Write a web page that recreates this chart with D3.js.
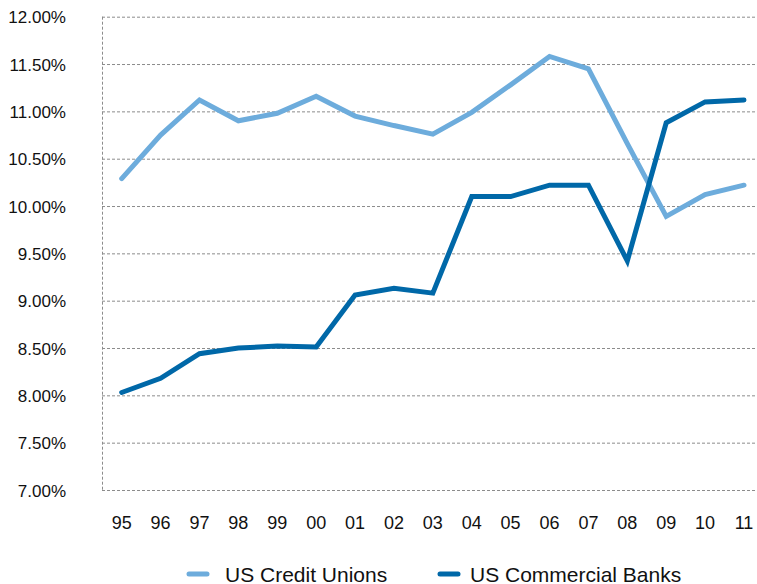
<!DOCTYPE html>
<html lang="en">
<head>
<meta charset="UTF-8" />
<title>Credit Unions vs Commercial Banks</title>
<script src="https://d3js.org/d3.v7.min.js"></script>
<style>
  body { margin: 0; background: #fff; }
  text { font-family: "Liberation Sans", Arial, Helvetica, sans-serif; fill: #111; }
</style>
</head>
<body>
<div id="chart"></div>
<script>
// data
var years = ["95","96","97","98","99","00","01","02","03","04","05","06","07","08","09","10","11"];
var creditUnions = [10.29, 10.75, 11.12, 10.90, 10.98, 11.16, 10.95, 10.85, 10.76, 10.99, 11.28, 11.58, 11.45, 10.66, 9.89, 10.12, 10.22];
var commercialBanks = [8.03, 8.18, 8.44, 8.50, 8.52, 8.51, 9.06, 9.13, 9.08, 10.10, 10.10, 10.22, 10.22, 9.42, 10.88, 11.10, 11.12];
var yTicks = [7, 7.5, 8, 8.5, 9, 9.5, 10, 10.5, 11, 11.5, 12];
var seriesNames = ["US Credit Unions", "US Commercial Banks"];
var seriesColors = ["#6dacdc", "#0068a8"];

var width = 757, height = 584;

var svg = d3.select("#chart").append("svg")
  .attr("width", width)
  .attr("height", height);

var x = d3.scalePoint().domain(years).range([121.7, 744]);
var y = d3.scaleLinear().domain([7, 12]).range([490, 16.7]);

// horizontal dashed grid
svg.append("g")
  .selectAll("line")
  .data(yTicks)
  .enter().append("line")
    .attr("x1", 102).attr("x2", width)
    .attr("y1", function(d) { return y(d) + 0.5; })
    .attr("y2", function(d) { return y(d) + 0.5; })
    .attr("stroke", "#8c8c8c")
    .attr("stroke-width", 1)
    .attr("stroke-dasharray", "3,2");

// left dashed border
svg.append("line")
  .attr("x1", 102.5).attr("x2", 102.5)
  .attr("y1", y(12)).attr("y2", y(7))
  .attr("stroke", "#8c8c8c")
  .attr("stroke-dasharray", "3,2");

// y labels
svg.append("g")
  .selectAll("text")
  .data(yTicks)
  .enter().append("text")
    .attr("x", 66)
    .attr("y", function(d) { return y(d) + 6.5; })
    .attr("text-anchor", "end")
    .style("font-size", "17px")
    .text(function(d) { return d.toFixed(2) + "%"; });

// x labels
svg.append("g")
  .selectAll("text")
  .data(years)
  .enter().append("text")
    .attr("x", function(d) { return x(d); })
    .attr("y", 528.5)
    .attr("text-anchor", "middle")
    .style("font-size", "18px")
    .text(function(d) { return d; });

// lines
var line = d3.line()
  .x(function(d, i) { return x(years[i]); })
  .y(function(d) { return y(d); });

[creditUnions, commercialBanks].forEach(function(vals, i) {
  svg.append("path")
    .datum(vals)
    .attr("d", line)
    .attr("fill", "none")
    .attr("stroke", seriesColors[i])
    .attr("stroke-width", 5)
    .attr("stroke-linejoin", "miter")
    .attr("stroke-linecap", "round");
});

// legend
var legendX = [187, 438];
var legend = svg.append("g")
  .selectAll("g")
  .data(seriesNames)
  .enter().append("g")
    .attr("transform", function(d, i) { return "translate(" + legendX[i] + ",574)"; });

legend.append("line")
  .attr("x1", 2).attr("x2", 20)
  .attr("stroke", function(d, i) { return seriesColors[i]; })
  .attr("stroke-width", 5)
  .attr("stroke-linecap", "round");

legend.append("text")
  .attr("x", function(d, i) { return i == 0 ? 38 : 32; })
  .attr("y", 7.5)
  .style("font-size", "21px")
  .text(function(d) { return d; });
</script>
</body>
</html>
